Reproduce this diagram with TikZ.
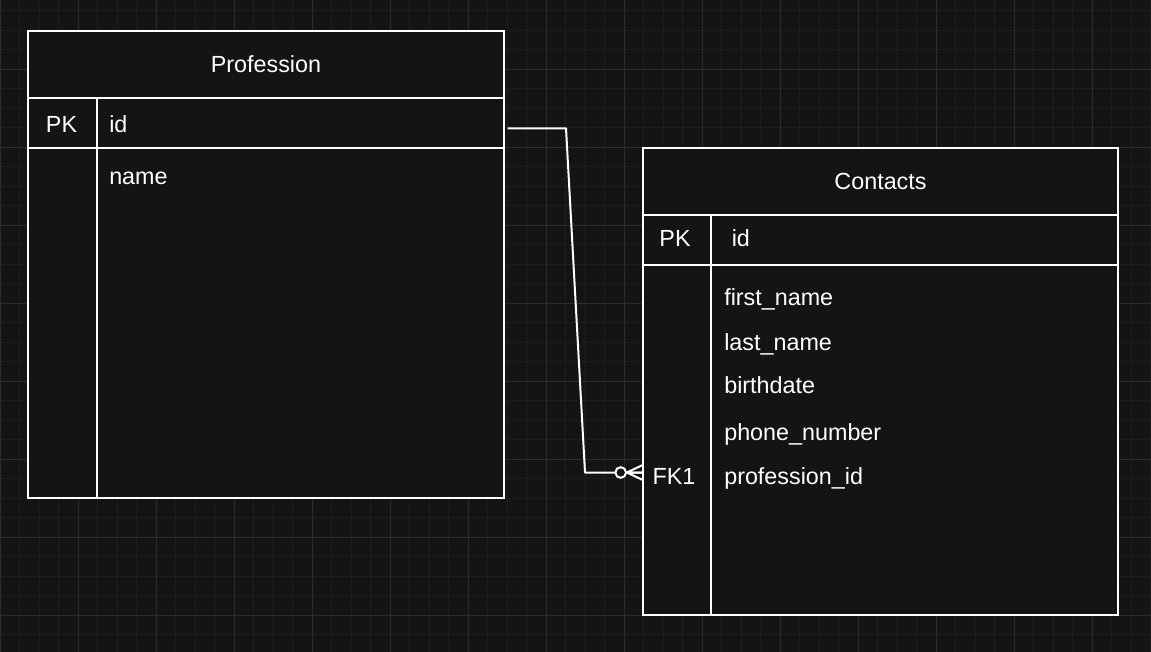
\documentclass[tikz,border=0pt]{standalone}
\usepackage{fontspec}
\setmainfont{Liberation Sans}
\usetikzlibrary{positioning}
\definecolor{bgcol}{HTML}{141414}
\definecolor{gridminor}{HTML}{1E1E1E}
\definecolor{gridmajor}{HTML}{2C2C2C}
\tikzset{
    cell/.style={draw=white, line width=1.5pt, fill=bgcol, inner sep=0pt, outer sep=0pt,
        text=white, font=\fontsize{17.5}{20}\selectfont},
    field/.style={text=white, font=\fontsize{17.5}{20}\selectfont, inner sep=0pt, anchor=base west},
    keyfield/.style={text=white, font=\fontsize{17.5}{20}\selectfont, inner sep=0pt, anchor=base},
    rule/.style={draw=white, line width=1.5pt},
    conn/.style={draw=white, line width=1.5pt, line join=round},
}
\begin{document}
\begin{tikzpicture}[x=0.75pt,y=-0.75pt]
        % background and grid
        \fill[bgcol] (0,0) rectangle (1151,652);
        \useasboundingbox (0,0) rectangle (1151,652);
        \foreach \i in {0,...,59} \draw[gridminor, line width=0.75pt] (\i*19.5,0) -- (\i*19.5,652);
        \foreach \j in {0,...,33} \draw[gridminor, line width=0.75pt] (0,10.8+\j*19.5) -- (1151,10.8+\j*19.5);
        \foreach \i in {0,...,14} \draw[gridmajor, line width=0.75pt] (\i*78,0) -- (\i*78,652);
        \foreach \j in {1,...,8} \draw[gridmajor, line width=0.75pt] (0,-8.7+\j*78) -- (1151,-8.7+\j*78);

        % Profession table
        \node[cell, minimum width=476*0.75pt, minimum height=67*0.75pt] (profhead) at (266,64.5) {Profession};
        \node[cell, minimum width=476*0.75pt, minimum height=50*0.75pt, below=0pt of profhead] (profkey) {};
        \node[cell, minimum width=476*0.75pt, minimum height=350*0.75pt, below=0pt of profkey] (profbody) {};
        \draw[rule] ([xshift=69*0.75pt]profkey.north west) -- ([xshift=69*0.75pt]profbody.south west);
        \node[keyfield] (profpk) at (61.5,132.3) {PK};
        \node[field] (profid) at (109,132.3) {id};
        \node[field] (profname) at (109,184.3) {name};

        % Contacts table
        \node[cell, minimum width=475*0.75pt, minimum height=67*0.75pt] (conthead) at (880.5,181.5) {Contacts};
        \node[cell, minimum width=475*0.75pt, minimum height=50*0.75pt, below=0pt of conthead] (contkey) {};
        \node[cell, minimum width=475*0.75pt, minimum height=350*0.75pt, below=0pt of contkey] (contbody) {};
        \draw[rule] ([xshift=68*0.75pt]contkey.north west) -- ([xshift=68*0.75pt]contbody.south west);
        \node[keyfield] (contpk) at (675,246.7) {PK};
        \node[field] (contid) at (731.5,246.7) {id};
        \node[field] (contfirst) at (724,305.7) {first\_name};
        \node[field] (contlast) at (724,350.7) {last\_name};
        \node[field] (contbirth) at (724,393.3) {birthdate};
        \node[field] (contphone) at (724,440) {phone\_number};
        \node[keyfield] (contfk) at (674,484) {FK1};
        \node[field] (contprof) at (724,484) {profession\_id};

        % relation: one profession, many contacts
        \coordinate (fkend) at (643,472.5);
        \draw[conn] ([shift={(3.5,5.3)}]profkey.east) -- ++(58.5,0) -- (585,472.5) -- (fkend);
        \draw[conn, fill=bgcol] ([shift={(-22.3,0)}]fkend) circle[radius=4pt];
        \draw[conn] ([shift={(-16.3,0)}]fkend) -- ([shift={(0,-7.6)}]fkend)
            ([shift={(-16.3,0)}]fkend) -- (fkend)
            ([shift={(-16.3,0)}]fkend) -- ([shift={(0,7.6)}]fkend);
\end{tikzpicture}
\end{document}
